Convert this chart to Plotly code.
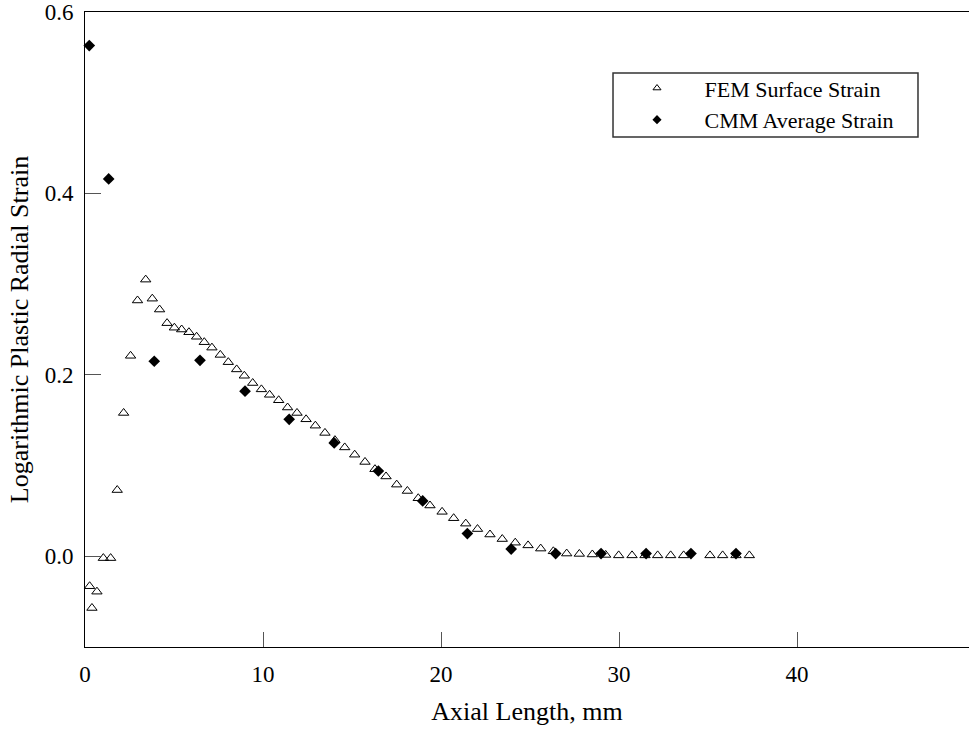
import plotly.graph_objects as go

# FEM Surface Strain (open triangles)
fem_x = [0.26, 0.39, 0.67, 1.03, 1.44, 1.81, 2.17, 2.56, 2.95, 3.41, 3.78, 4.19, 4.61, 5.02,
         5.43, 5.84, 6.27, 6.70, 7.13, 7.60, 8.05, 8.52, 8.95, 9.42, 9.91, 10.37, 10.88,
         11.38, 11.91, 12.42, 12.94, 13.48, 14.04, 14.59, 15.15, 15.73, 16.29, 16.91,
         17.51, 18.11, 18.72, 19.38, 20.06, 20.71, 21.39, 22.05, 22.75, 23.44, 24.17,
         24.89, 25.60, 26.31, 27.06, 27.77, 28.50, 29.25, 29.98, 30.73, 31.46, 32.17,
         32.90, 33.63, 35.11, 35.82, 36.57, 37.32]
fem_y = [-0.033, -0.057, -0.039, -0.002, -0.002, 0.073, 0.158, 0.221, 0.282, 0.305, 0.284,
         0.272, 0.257, 0.252, 0.250, 0.247, 0.242, 0.236, 0.230, 0.222, 0.214, 0.206,
         0.199, 0.191, 0.184, 0.178, 0.172, 0.164, 0.158, 0.151, 0.144, 0.136, 0.128,
         0.120, 0.112, 0.104, 0.096, 0.088, 0.079, 0.072, 0.064, 0.056, 0.049, 0.042,
         0.036, 0.030, 0.024, 0.019, 0.015, 0.012, 0.0085, 0.0055, 0.003, 0.0026, 0.002,
         0.0015, 0.001, 0.001, 0.001, 0.001, 0.001, 0.001, 0.001, 0.001, 0.001, 0.001]

# CMM Average Strain (filled diamonds)
cmm_x = [0.24, 1.33, 3.89, 6.46, 8.99, 11.47, 14.0, 16.48, 18.97, 21.48, 23.94, 26.44,
         28.99, 31.52, 34.04, 36.57]
cmm_y = [0.563, 0.416, 0.215, 0.216, 0.182, 0.151, 0.125, 0.094, 0.061, 0.025, 0.008,
         0.003, 0.003, 0.003, 0.003, 0.003]

x_ticks = [0, 10, 20, 30, 40]
y_ticks = [0.0, 0.2, 0.4, 0.6]
y_tick_labels = ["0.0", "0.2", "0.4", "0.6"]

FONT = "Liberation Serif"
PAD = "\u00a0" * 5

fig = go.Figure()
fig.add_trace(go.Scatter(
    x=fem_x, y=fem_y, mode="markers", name="FEM Surface Strain", showlegend=False,
    marker=dict(symbol="triangle-up-open", size=9, color="black", line=dict(width=1)),
    cliponaxis=False,
))
fig.add_trace(go.Scatter(
    x=cmm_x, y=cmm_y, mode="markers", name="CMM Average Strain", showlegend=False,
    marker=dict(symbol="diamond", size=9, color="black"),
    cliponaxis=False,
))
# legend entries (smaller symbols as in the reference)
fig.add_trace(go.Scatter(
    x=[None], y=[None], mode="markers", name=PAD + "FEM Surface Strain",
    marker=dict(symbol="triangle-up-open", size=7, color="black", line=dict(width=1)),
))
fig.add_trace(go.Scatter(
    x=[None], y=[None], mode="markers", name=PAD + "CMM Average Strain",
    marker=dict(symbol="diamond", size=7, color="black"),
))

# legend frame
fig.add_shape(type="rect", xref="paper", yref="paper",
              x0=0.5973, x1=0.9423, y0=0.8031, y1=0.9039,
              line=dict(color="#333", width=1.5), fillcolor="rgba(0,0,0,0)", layer="above")

fig.update_layout(
    width=969, height=735,
    margin=dict(l=85, r=0, t=12, b=88),
    paper_bgcolor="white", plot_bgcolor="white",
    font=dict(family=FONT, size=23, color="black"),
    legend=dict(
        x=(637 - 85) / 884, y=0.913, xanchor="left", yanchor="top",
        borderwidth=0, bgcolor="rgba(0,0,0,0)",
        font=dict(family=FONT, size=22, color="black"),
        tracegroupgap=0, itemsizing="trace",
    ),
    xaxis=dict(
        range=[0, 49.66], tickvals=x_ticks, ticks="inside", ticklen=15,
        tickcolor="#555", tickwidth=1, showline=True, linecolor="black", linewidth=1,
        mirror=True, showgrid=False, zeroline=False, ticklabelstandoff=6,
        title=dict(text="Axial Length, mm", font=dict(family=FONT, size=26), standoff=16),
        tickfont=dict(family=FONT, size=23),
    ),
    yaxis=dict(
        range=[-0.1, 0.6], tickvals=y_ticks, ticktext=y_tick_labels, ticks="inside",
        ticklen=16, tickcolor="#555", tickwidth=1, showline=True, linecolor="black",
        linewidth=1, mirror=False, showgrid=False, zeroline=False, ticklabelstandoff=6,
        title=dict(text="Logarithmic Plastic Radial Strain", font=dict(family=FONT, size=26),
                   standoff=8),
        tickfont=dict(family=FONT, size=23),
    ),
)

fig.write_html("out.html")
